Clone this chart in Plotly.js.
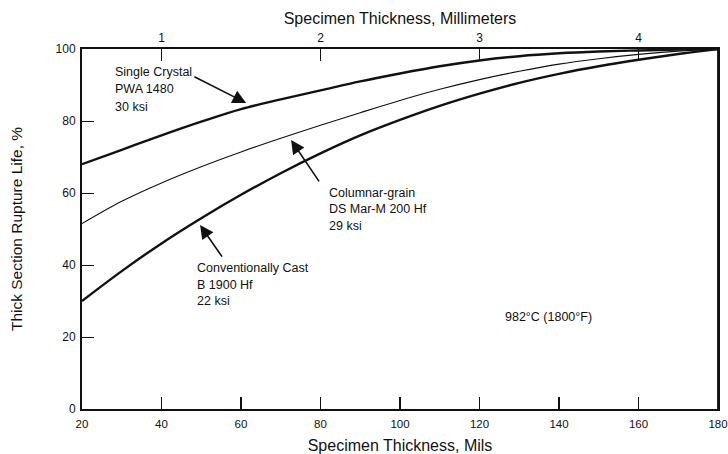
<!DOCTYPE html>
<html>
<head>
<meta charset="utf-8">
<script src="https://cdn.plot.ly/plotly-3.0.1.min.js"></script>
<style>html,body{margin:0;padding:0;background:#fff;}#chart{width:728px;height:454px;}</style>
</head>
<body>
<div id="chart"></div>
<script>
// Specimen thickness, mils
const thicknessMils = [20, 30, 40, 50, 60, 70, 80, 90, 100, 110, 120, 130, 140, 150, 160, 170, 180];
// Thick section rupture life, %
const singleCrystal = [68, 72, 76, 79.8, 83.3, 86, 88.5, 91, 93.2, 95.2, 96.8, 98, 98.8, 99.3, 99.6, 99.85, 100];
const columnarGrain = [51.5, 57.7, 62.8, 67.3, 71.4, 75.2, 78.8, 82.3, 85.7, 88.8, 91.5, 93.8, 95.8, 97.3, 98.5, 99.4, 100];
const conventionalCast = [30, 38.3, 46, 53, 59.5, 65.5, 71, 76, 80.3, 84.2, 87.6, 90.6, 93.1, 95.2, 97, 98.6, 100];

const milsTicks = [20, 40, 60, 80, 100, 120, 140, 160, 180];
const yTicks = [0, 20, 40, 60, 80, 100];
const mmTickPositions = [40, 80, 120, 160];
const mmTickLabels = ["1", "2", "3", "4"];

const labelSingle = ["Single Crystal", "PWA 1480", "30 ksi"];
const labelColumnar = ["Columnar-grain", "DS Mar-M 200 Hf", "29 ksi"];
const labelConventional = ["Conventionally Cast", "B 1900 Hf", "22 ksi"];
const tempLabel = "982°C (1800°F)";

const FONT = "Liberation Sans, Arial, sans-serif";
const INK = "#111";

const traces = [
  {x: thicknessMils, y: singleCrystal, mode: "lines", line: {color: INK, width: 2.4, shape: "spline"}, hoverinfo: "skip"},
  {x: thicknessMils, y: columnarGrain, mode: "lines", line: {color: INK, width: 1.1, shape: "spline"}, hoverinfo: "skip"},
  {x: thicknessMils, y: conventionalCast, mode: "lines", line: {color: INK, width: 2.4, shape: "spline"}, hoverinfo: "skip"},
  {x: thicknessMils, y: singleCrystal, xaxis: "x2", mode: "lines", opacity: 0, hoverinfo: "skip"}
];

function block(lines, x0, yTop, step) {
  return lines.map((t, i) => ({
    x: x0, y: yTop - i * step, xref: "x", yref: "y", text: t, showarrow: false,
    xanchor: "left", yanchor: "middle", font: {family: FONT, size: 12.5, color: INK}
  }));
}
function arrow(xTail, yTail, xHead, yHead) {
  return {x: xHead, y: yHead, ax: xTail, ay: yTail, xref: "x", yref: "y", axref: "x", ayref: "y",
    text: "", showarrow: true, arrowhead: 2, arrowsize: 1.7, arrowwidth: 1.6, arrowcolor: INK, standoff: 0, startstandoff: 0};
}

const annotations = [].concat(
  block(labelSingle, 27.8, 93.6, 4.8),
  block(labelColumnar, 81.7, 60.1, 4.6),
  block(labelConventional, 48.4, 39.1, 4.6),
  [{x: 125.9, y: 25.6, xref: "x", yref: "y", text: tempLabel, showarrow: false, xanchor: "left", yanchor: "middle",
    font: {family: FONT, size: 12.5, color: INK}}],
  [arrow(47.9, 92.5, 61.3, 85), arrow(79.9, 62.8, 72.6, 74.7), arrow(55.5, 41.9, 49.7, 51.1)]
);

const layout = {
  width: 728, height: 454,
  margin: {l: 82, r: 10, t: 49, b: 45},
  paper_bgcolor: "#fff", plot_bgcolor: "#fff",
  showlegend: false,
  font: {family: FONT, color: INK, size: 11.5},
  xaxis: {
    range: [20, 180], tickvals: milsTicks, ticks: "inside", ticklen: 12, tickwidth: 1.5, tickcolor: INK,
    showline: true, linewidth: 2, linecolor: INK, mirror: false, showgrid: false, zeroline: false,
    tickfont: {family: FONT, size: 11.5, color: INK}, ticklabelstandoff: 3,
    title: {text: "Specimen Thickness, Mils", font: {family: FONT, size: 16, color: INK}, standoff: 12}
  },
  xaxis2: {
    overlaying: "x", side: "top", anchor: "y", range: [20, 180],
    tickvals: mmTickPositions, ticktext: mmTickLabels, ticks: "inside", ticklen: 12, tickwidth: 1.5, tickcolor: INK,
    showline: true, linewidth: 1.8, linecolor: INK, showgrid: false, zeroline: false,
    tickfont: {family: FONT, size: 12, color: INK},
    title: {text: "Specimen Thickness, Millimeters", font: {family: FONT, size: 16, color: INK}, standoff: 3}
  },
  yaxis: {
    range: [0, 100], tickvals: yTicks, ticks: "inside", ticklen: 12, tickwidth: 1, tickcolor: INK,
    showline: true, linewidth: 2, linecolor: INK, mirror: true, showgrid: false, zeroline: false,
    tickfont: {family: FONT, size: 12, color: INK}, ticklabelstandoff: 2,
    title: {text: "Thick Section Rupture Life, %", font: {family: FONT, size: 15.5, color: INK}, standoff: 29}
  },
  shapes: [
    {type: "line", xref: "paper", yref: "paper", x0: 1, x1: 1, y0: 0, y1: 1, line: {color: INK, width: 1.8}}
  ],
  annotations: annotations
};

Plotly.newPlot("chart", traces, layout, {staticPlot: true, displayModeBar: false});
</script>
</body>
</html>
